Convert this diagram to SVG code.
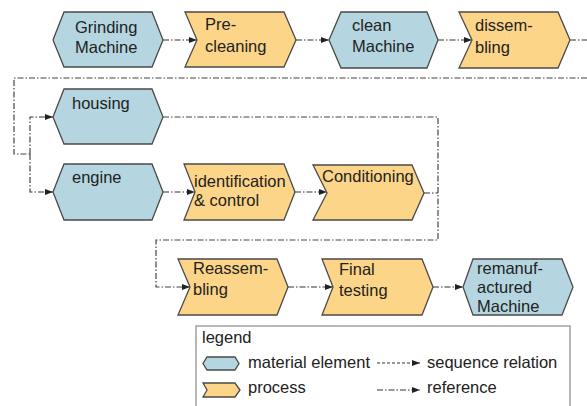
<svg xmlns="http://www.w3.org/2000/svg" width="587" height="406" viewBox="0 0 587 406">
  <defs>
    <marker id="arrow" viewBox="0 0 8 6" refX="8" refY="3" markerWidth="8" markerHeight="6" markerUnits="userSpaceOnUse" orient="auto">
      <path d="M0,0 L8,3 L0,6 Z" fill="#222"/>
    </marker>
    <style>
      .mat { fill: #b5d6e0; stroke: #4a4a4a; stroke-width: 1.3; }
      .proc { fill: #fcd588; stroke: #4a4a4a; stroke-width: 1.3; }
      .lbl { font-family: "Liberation Sans", Arial, sans-serif; font-size: 16.5px; fill: #222; }
      .link { fill: none; stroke: #333; stroke-width: 1.1; stroke-dasharray: 6 2 1.5 2; }
      .ref { fill: none; stroke: #444; stroke-width: 1.2; stroke-dasharray: 6 2 1.5 2; }
      .seq { fill: none; stroke: #333; stroke-width: 1.1; stroke-dasharray: 3 2; }
    </style>
  </defs>
  <rect width="587" height="406" fill="#fff"/>

  <!-- connectors -->
  <g id="connectors">
    <path class="link" d="M163,40 H197" marker-end="url(#arrow)"/>
    <path class="link" d="M296,40 H329" marker-end="url(#arrow)"/>
    <path class="link" d="M438,40 H472" marker-end="url(#arrow)"/>
    <path class="link" d="M570,40 H587"/>
    <path class="ref" d="M587,78 H14 V154 H30"/>
    <path class="link" d="M30,154 V117 H53" marker-end="url(#arrow)"/>
    <path class="link" d="M30,154 V192 H53" marker-end="url(#arrow)"/>
    <path class="link" d="M163,192 H195" marker-end="url(#arrow)"/>
    <path class="link" d="M295,192 H327" marker-end="url(#arrow)"/>
    <path class="ref" d="M163,117 H438 V240 H156 V287 H190" marker-end="url(#arrow)"/>
    <path class="link" d="M424,193 H438"/>
    <path class="link" d="M288,287 H333" marker-end="url(#arrow)"/>
    <path class="link" d="M433,287 H463" marker-end="url(#arrow)"/>
  </g>

  <!-- row 1 -->
  <g id="grinding-machine">
    <path class="mat" d="M53,40 L64,12 H152 L163,40 L152,67 H64 Z"/>
    <text class="lbl" x="75" y="33">Grinding</text>
    <text class="lbl" x="75" y="53">Machine</text>
  </g>
  <g id="pre-cleaning">
    <path class="proc" d="M185,12 H284 L296,40 L284,67 H185 L197,40 Z"/>
    <text class="lbl" x="205" y="30">Pre-</text>
    <text class="lbl" x="205" y="52">cleaning</text>
  </g>
  <g id="clean-machine">
    <path class="mat" d="M329,40 L341,12 H427 L438,40 L427,68 H341 Z"/>
    <text class="lbl" x="352" y="31">clean</text>
    <text class="lbl" x="352" y="52">Machine</text>
  </g>
  <g id="dissembling">
    <path class="proc" d="M459,12 H558 L570,40 L558,68 H459 L472,40 Z"/>
    <text class="lbl" x="475" y="31">dissem-</text>
    <text class="lbl" x="475" y="53">bling</text>
  </g>

  <!-- row 2 -->
  <g id="housing">
    <path class="mat" d="M53,117 L64,89 H152 L163,117 L152,144 H64 Z"/>
    <text class="lbl" x="72" y="109">housing</text>
  </g>
  <g id="engine">
    <path class="mat" d="M53,192 L64,164 H152 L163,192 L152,220 H64 Z"/>
    <text class="lbl" x="72" y="183">engine</text>
  </g>
  <g id="identification-control">
    <path class="proc" d="M184,164 H284 L295,192 L284,220 H184 L195,192 Z"/>
    <text class="lbl" x="194" y="187">identification</text>
    <text class="lbl" x="194" y="206">&amp; control</text>
  </g>
  <g id="conditioning">
    <path class="proc" d="M313,165 H412 L424,193 L412,220 H313 L327,193 Z"/>
    <text class="lbl" x="322" y="182">Conditioning</text>
  </g>

  <!-- row 3 -->
  <g id="reassembling">
    <path class="proc" d="M178,259 H277 L288,287 L277,315 H178 L190,287 Z"/>
    <text class="lbl" x="193" y="274">Reassem-</text>
    <text class="lbl" x="193" y="295">bling</text>
  </g>
  <g id="final-testing">
    <path class="proc" d="M322,259 H422 L433,287 L422,315 H322 L333,287 Z"/>
    <text class="lbl" x="339" y="275">Final</text>
    <text class="lbl" x="339" y="296">testing</text>
  </g>
  <g id="remanufactured-machine">
    <path class="mat" d="M463,287 L473,259 H562 L573,287 L562,315 H473 Z"/>
    <text class="lbl" x="477" y="274">remanuf-</text>
    <text class="lbl" x="477" y="293">actured</text>
    <text class="lbl" x="477" y="312">Machine</text>
  </g>

  <!-- legend -->
  <g id="legend">
    <rect x="196" y="326" width="374" height="100" fill="#fff" stroke="#888" stroke-width="1.2"/>
    <text class="lbl" x="202" y="343">legend</text>
    <path class="mat" d="M203,363.5 L207,357 H235 L239,363.5 L235,370 H207 Z"/>
    <text class="lbl" x="248" y="368">material element</text>
    <path class="proc" d="M203,383 H235 L240,390 L235,397 H203 L207,390 Z"/>
    <text class="lbl" x="248" y="393">process</text>
    <path class="seq" d="M377,363 H420" marker-end="url(#arrow)"/>
    <text class="lbl" x="427" y="368">sequence relation</text>
    <path class="link" d="M377,390 H420" marker-end="url(#arrow)"/>
    <text class="lbl" x="427" y="393">reference</text>
  </g>
</svg>
